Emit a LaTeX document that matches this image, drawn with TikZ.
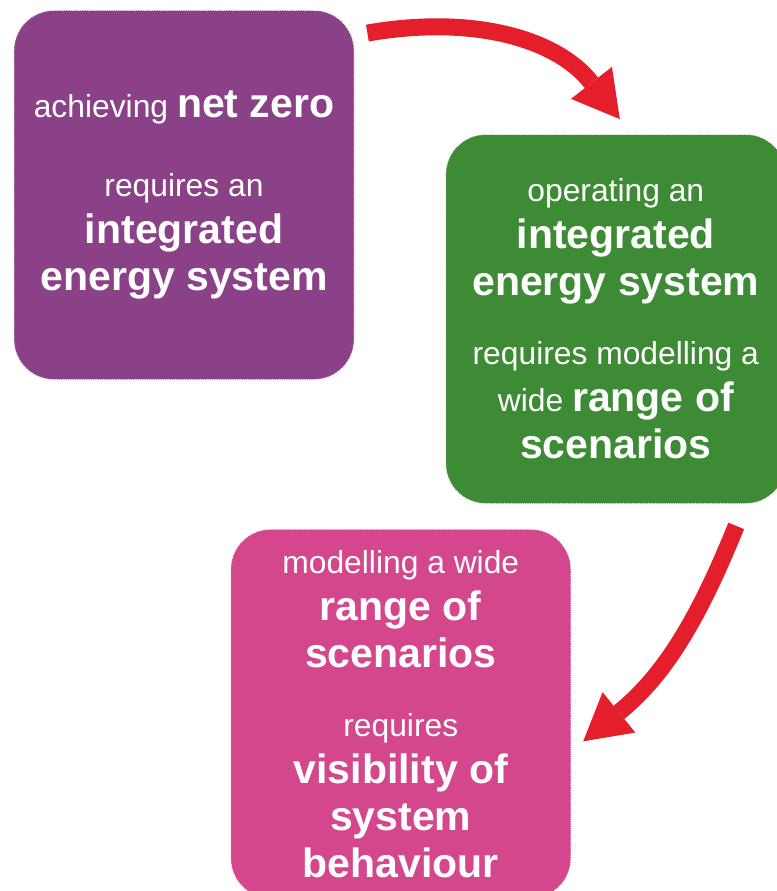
\documentclass[tikz,border=0pt]{standalone}
\usepackage{fontspec}
\setmainfont{Liberation Sans}
\usepackage{tikz}
\usetikzlibrary{positioning,arrows.meta}
\definecolor{nzpurple}{RGB}{138,65,135}
\definecolor{nzgreen}{RGB}{62,139,53}
\definecolor{nzpink}{RGB}{212,71,140}
\definecolor{nzred}{RGB}{228,30,42}
\newcommand{\bigword}[1]{{\fontsize{41}{47}\selectfont\bfseries #1}}
\tikzset{main box/.style={rounded corners=40pt, draw=white, densely dotted, line width=0.8pt,
    minimum width=340pt, minimum height=369pt, inner sep=2pt, text=white, align=center,
    font=\fontsize{31.8}{47}\selectfont},
  flow/.style={-{Triangle[width=52pt,length=46pt,line width=0pt]}, line width=17pt, color=nzred},}

\begin{document}
\begin{tikzpicture}[x=1pt, y=1pt]
        \useasboundingbox (0,0) rectangle (776,-891);
        % Nodes
        \node[main box, fill=nzpurple] (1) at (184,-195)
            {achieving \bigword{net zero}\\[32pt] requires an\\ \bigword{integrated}\\ \bigword{energy system}};
        \node[main box, fill=nzgreen] [right = 91pt of 1, yshift=-124pt] (2)
            {operating an\\ \bigword{integrated}\\ \bigword{energy system}\\[22pt] requires modelling a\\ wide \bigword{range of}\\ \bigword{scenarios}};
        \node[main box, fill=nzpink] [below = 25pt of 2, xshift=-215pt] (3)
            {modelling a wide\\ \bigword{range of}\\ \bigword{scenarios}\\[22pt] requires\\ \bigword{visibility of}\\ \bigword{system}\\ \bigword{behaviour}};
        % Arrow ends
        \coordinate (1t) at ([shift={(13pt,-23pt)}]1.north east);
        \coordinate (2h) at ([shift={(4pt,15pt)}]2.north);
        \coordinate (2t) at ([shift={(-50pt,-22pt)}]2.south east);
        \coordinate (3h) at ([shift={(12pt,-27.5pt)}]3.east);
        % Paths
        \draw[flow] (1t) to [out=10, in=128] (2h);
        \draw[flow] (2t) to [out=-112, in=39] (3h);
    \end{tikzpicture}
\end{document}
